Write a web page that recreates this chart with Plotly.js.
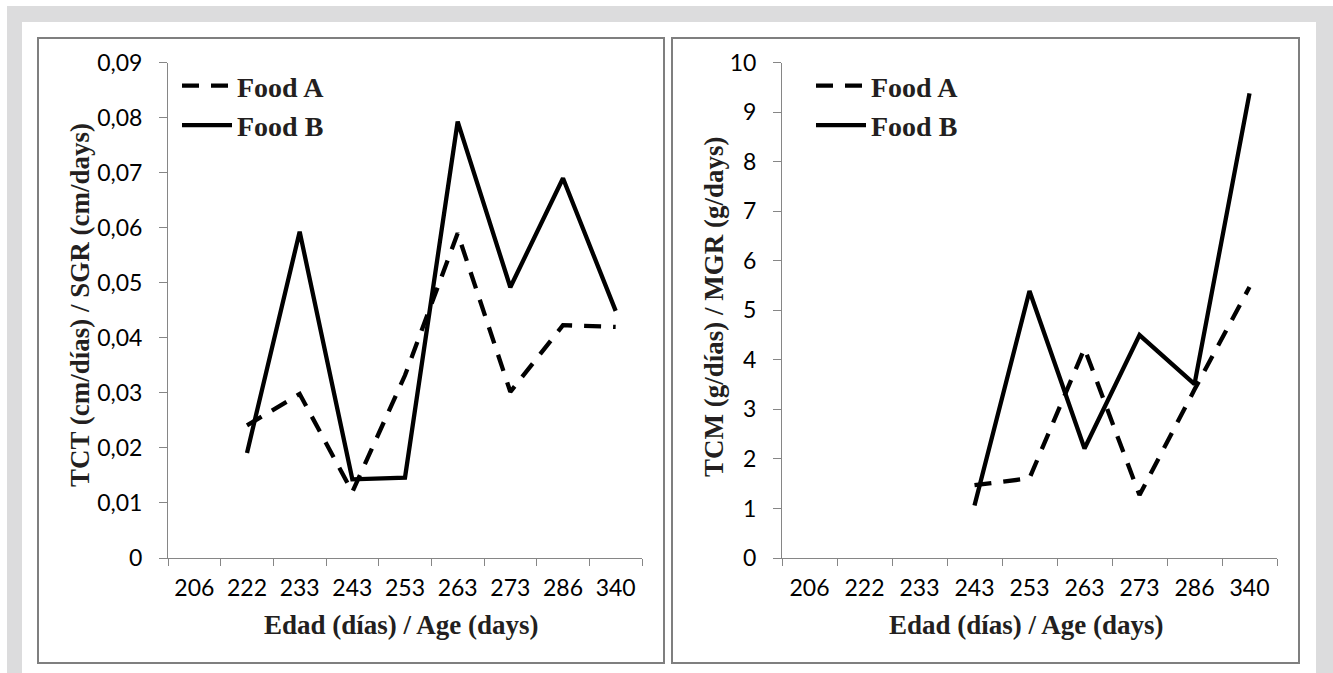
<!DOCTYPE html>
<html>
<head>
<meta charset="utf-8">
<script src="https://cdn.plot.ly/plotly-3.0.1.min.js"></script>
<style>html,body{margin:0;padding:0;background:#fff;}#chart{width:1333px;height:673px;}</style>
</head>
<body>
<div id="chart"></div>
<script>
// ---- data ----
const ages = ['206','222','233','243','253','263','273','286','340'];
const sgrFoodA = [null, 0.0241, 0.0298, 0.0120, 0.0332, 0.0590, 0.0302, 0.0423, 0.0420];
const sgrFoodB = [null, 0.0191, 0.0593, 0.0143, 0.0146, 0.0793, 0.0492, 0.0690, 0.0449];
const mgrFoodA = [null, null, null, 1.47, 1.61, 4.23, 1.27, 3.40, 5.47];
const mgrFoodB = [null, null, null, 1.06, 5.39, 2.21, 4.50, 3.51, 9.38];
const sgrTickVals = [0, 0.01, 0.02, 0.03, 0.04, 0.05, 0.06, 0.07, 0.08, 0.09];
const sgrTickText = ['0', '0,01', '0,02', '0,03', '0,04', '0,05', '0,06', '0,07', '0,08', '0,09'];
const mgrTickVals = [0, 1, 2, 3, 4, 5, 6, 7, 8, 9, 10];
const seriesNames = ['Food A', 'Food B'];
const xTitle = 'Edad (días) / Age (days)';
const yTitleLeft = 'TCT (cm/días) / SGR (cm/days)';
const yTitleRight = 'TCM (g/días) / MGR (g/days)';

// ---- layout helpers ----
const W = 1333, H = 673;
const fx = x => x / W;
const fy = y => 1 - y / H;
const ink = '#000000';
const txt = '#231f20';
const axisGrey = '#868686';
const serif = 'Liberation Serif, Times New Roman, serif';
const sans = 'Lato, Calibri, sans-serif';

const dashA = '17px,12px';
function trace(y, name, dash, xa, ya, leg, show) {
  return {x: ages, y: y, name: name, type: 'scatter', mode: 'lines',
    line: {color: ink, width: 4.3, dash: dash}, xaxis: xa, yaxis: ya,
    legend: leg, showlegend: show, connectgaps: false, hoverinfo: 'x+y'};
}
const data = [
  trace(sgrFoodA, seriesNames[0], dashA, 'x', 'y', 'legend', true),
  trace(sgrFoodB, seriesNames[1], 'solid', 'x', 'y', 'legend', true),
  trace(mgrFoodA, seriesNames[0], dashA, 'x2', 'y2', 'legend2', true),
  trace(mgrFoodB, seriesNames[1], 'solid', 'x2', 'y2', 'legend2', true)
];

function xAxis(d0, d1, anchor) {
  return {domain: [fx(d0), fx(d1)], anchor: anchor, type: 'category',
    categoryorder: 'array', categoryarray: ages, range: [-0.5, 8.5],
    tickson: 'boundaries', ticks: 'outside', ticklen: 7, tickwidth: 1, tickcolor: axisGrey,
    showline: true, linecolor: axisGrey, linewidth: 1, showgrid: false, zeroline: false,
    tickfont: {family: sans, size: 23, color: ink}, ticklabelstandoff: 9, fixedrange: true};
}
function yAxis(anchor, range, vals, text) {
  const a = {domain: [fy(558), fy(62.7)], anchor: anchor, range: range,
    tickmode: 'array', tickvals: vals,
    ticks: 'outside', ticklen: 8, tickwidth: 1, tickcolor: axisGrey,
    showline: true, linecolor: axisGrey, linewidth: 1, showgrid: false, zeroline: false,
    tickfont: {family: sans, size: 23, color: ink}, ticklabelstandoff: 12, fixedrange: true};
  if (text) a.ticktext = text;
  return a;
}

const legendBase = {font: {family: serif, size: 28, color: txt, weight: 'bold'},
  bgcolor: 'rgba(0,0,0,0)', borderwidth: 0, itemwidth: 50, tracegroupgap: 0,
  xanchor: 'left', yanchor: 'top', itemclick: false, itemdoubleclick: false};

const shapes = [
  // grey frame
  {type: 'rect', xref: 'paper', yref: 'paper', x0: fx(7), x1: fx(1333), y0: fy(680), y1: fy(6),
   fillcolor: '#dcdcdd', line: {width: 0}, layer: 'below'},
  {type: 'rect', xref: 'paper', yref: 'paper', x0: fx(22), x1: fx(1316), y0: fy(680), y1: fy(22),
   fillcolor: '#ffffff', line: {width: 0}, layer: 'below'},
  // panel borders
  {type: 'rect', xref: 'paper', yref: 'paper', x0: fx(38), x1: fx(664), y0: fy(663), y1: fy(38),
   fillcolor: '#ffffff', line: {color: '#7f7f7f', width: 2}, layer: 'below'},
  {type: 'rect', xref: 'paper', yref: 'paper', x0: fx(672), x1: fx(1299), y0: fy(663), y1: fy(38),
   fillcolor: '#ffffff', line: {color: '#7f7f7f', width: 2}, layer: 'below'}
];

const titleFont = {family: serif, size: 27, color: txt, weight: 'bold'};
const annotations = [
  {text: xTitle, xref: 'paper', yref: 'paper', x: fx(401), y: fy(625), xanchor: 'center', yanchor: 'middle', showarrow: false, font: titleFont},
  {text: xTitle, xref: 'paper', yref: 'paper', x: fx(1026), y: fy(625), xanchor: 'center', yanchor: 'middle', showarrow: false, font: titleFont},
  {text: yTitleLeft, xref: 'paper', yref: 'paper', x: fx(80), y: fy(305), xanchor: 'center', yanchor: 'middle', textangle: -90, showarrow: false, font: titleFont},
  {text: yTitleRight, xref: 'paper', yref: 'paper', x: fx(714), y: fy(306), xanchor: 'center', yanchor: 'middle', textangle: -90, showarrow: false, font: titleFont}
];

const layout = {
  width: W, height: H, margin: {l: 0, r: 0, t: 0, b: 0, pad: 0},
  paper_bgcolor: '#ffffff', plot_bgcolor: 'rgba(0,0,0,0)',
  xaxis: xAxis(168, 642, 'y'),
  yaxis: yAxis('x', [0, 0.09], sgrTickVals, sgrTickText),
  xaxis2: xAxis(782, 1277, 'y2'),
  yaxis2: yAxis('x2', [0, 10], mgrTickVals, null),
  legend: Object.assign({}, legendBase, {x: fx(177), y: fy(61)}),
  legend2: Object.assign({}, legendBase, {x: fx(811), y: fy(61)}),
  shapes: shapes, annotations: annotations, hovermode: false
};

Plotly.newPlot('chart', data, layout, {displayModeBar: false, staticPlot: true});
</script>
</body>
</html>
